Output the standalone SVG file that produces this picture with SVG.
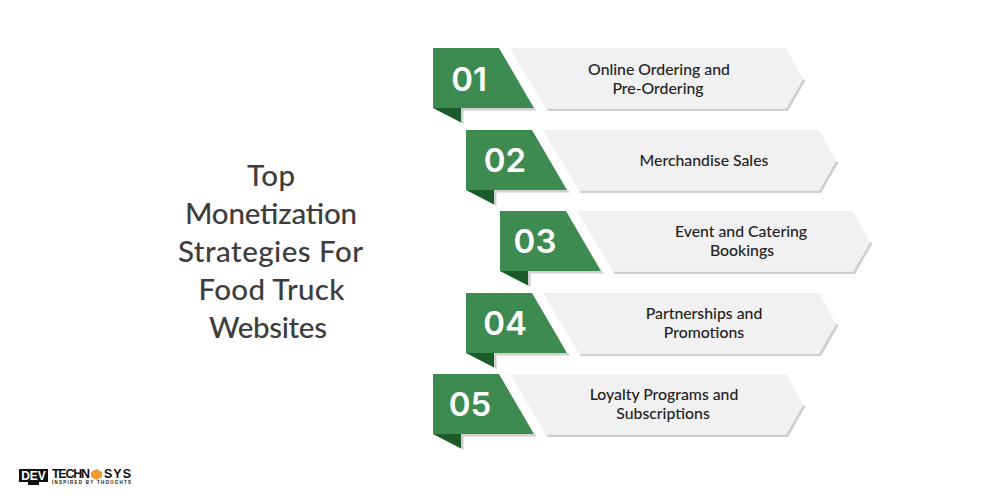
<svg xmlns="http://www.w3.org/2000/svg" width="1000" height="500" viewBox="0 0 1000 500">
<style>
text{font-family:"Lato","Liberation Sans",sans-serif}
.t{font-size:15.8px;font-weight:500;fill:#222;text-anchor:middle}
.n{font-size:33px;font-weight:600;fill:#fff;text-anchor:middle;font-family:"Inter","Liberation Sans",sans-serif}
.h{font-size:29.5px;font-weight:500;fill:#3d3d3d;text-anchor:middle}
.l{font-family:"Liberation Sans",sans-serif;fill:#111}
</style>
<defs>
<g id="ribbon">
<path d="M28 60H102L104 62.500H30.500V76L28 75Z" fill="#cfcfcf"/>
<path d="M113 60.500H353L370 31L372.500 32.500L355 63H115Z" fill="#cfcfcf"/>
<path d="M77 0H353L370 31L353 60.500H113Z" fill="#f1f1f1"/>
<path d="M0 0H66L101 60H0Z" fill="#3e8b51"/>
<path d="M0 60H28V74.500Z" fill="#1b5a29"/>
</g>
</defs>
<rect width="1000" height="500" fill="#fff"/>
<g id="title">
<text class="h" x="271" y="185.500" textLength="48">Top</text>
<text class="h" x="271" y="223.500" textLength="172">Monetization</text>
<text class="h" x="270.500" y="261.500" textLength="185">Strategies For</text>
<text class="h" x="271.500" y="299.500" textLength="146">Food Truck</text>
<text class="h" x="268" y="337.500" textLength="118">Websites</text>
</g>
<g id="node-1" transform="translate(433 48)"><use href="#ribbon"/><text class="n" x="36" y="43">01</text><text class="t" x="226" y="27">Online Ordering and</text><text class="t" x="225" y="46">Pre-Ordering</text></g>
<g id="node-2" transform="translate(466 130)"><use href="#ribbon"/><text class="n" x="39" y="42">02</text><text class="t" x="238" y="36">Merchandise Sales</text></g>
<g id="node-3" transform="translate(500 211)"><use href="#ribbon"/><text class="n" x="35" y="42">03</text><text class="t" x="241" y="26">Event and Catering</text><text class="t" x="242" y="45">Bookings</text></g>
<g id="node-4" transform="translate(466 293)"><use href="#ribbon"/><text class="n" x="39" y="42">04</text><text class="t" x="238" y="26">Partnerships and</text><text class="t" x="238" y="45">Promotions</text></g>
<g id="node-5" transform="translate(433 374)"><use href="#ribbon"/><text class="n" x="37" y="42">05</text><text class="t" x="231" y="26">Loyalty Programs and</text><text class="t" x="230" y="45">Subscriptions</text></g>
<g id="logo">
<rect x="19" y="469" width="29" height="13" fill="#111"/>
<rect x="28" y="482" width="11" height="3" fill="#111"/>
<text class="l" x="33.500" y="480" font-size="12" font-weight="700" text-anchor="middle" style="fill:#fff">DEV</text>
<text class="l" x="52" y="478" font-size="12.500" font-weight="700" textLength="38">TECHN</text>
<path d="M96.500 469L102 472V477L96.500 480L91 477V472Z" fill="#f29a2e"/>
<text class="l" x="104" y="478" font-size="12.500" font-weight="700" textLength="27">SYS</text>
<text class="l" x="52" y="484" font-size="4.500" font-weight="700" textLength="79">INSPIRED BY THOUGHTS</text>
</g>
</svg>
